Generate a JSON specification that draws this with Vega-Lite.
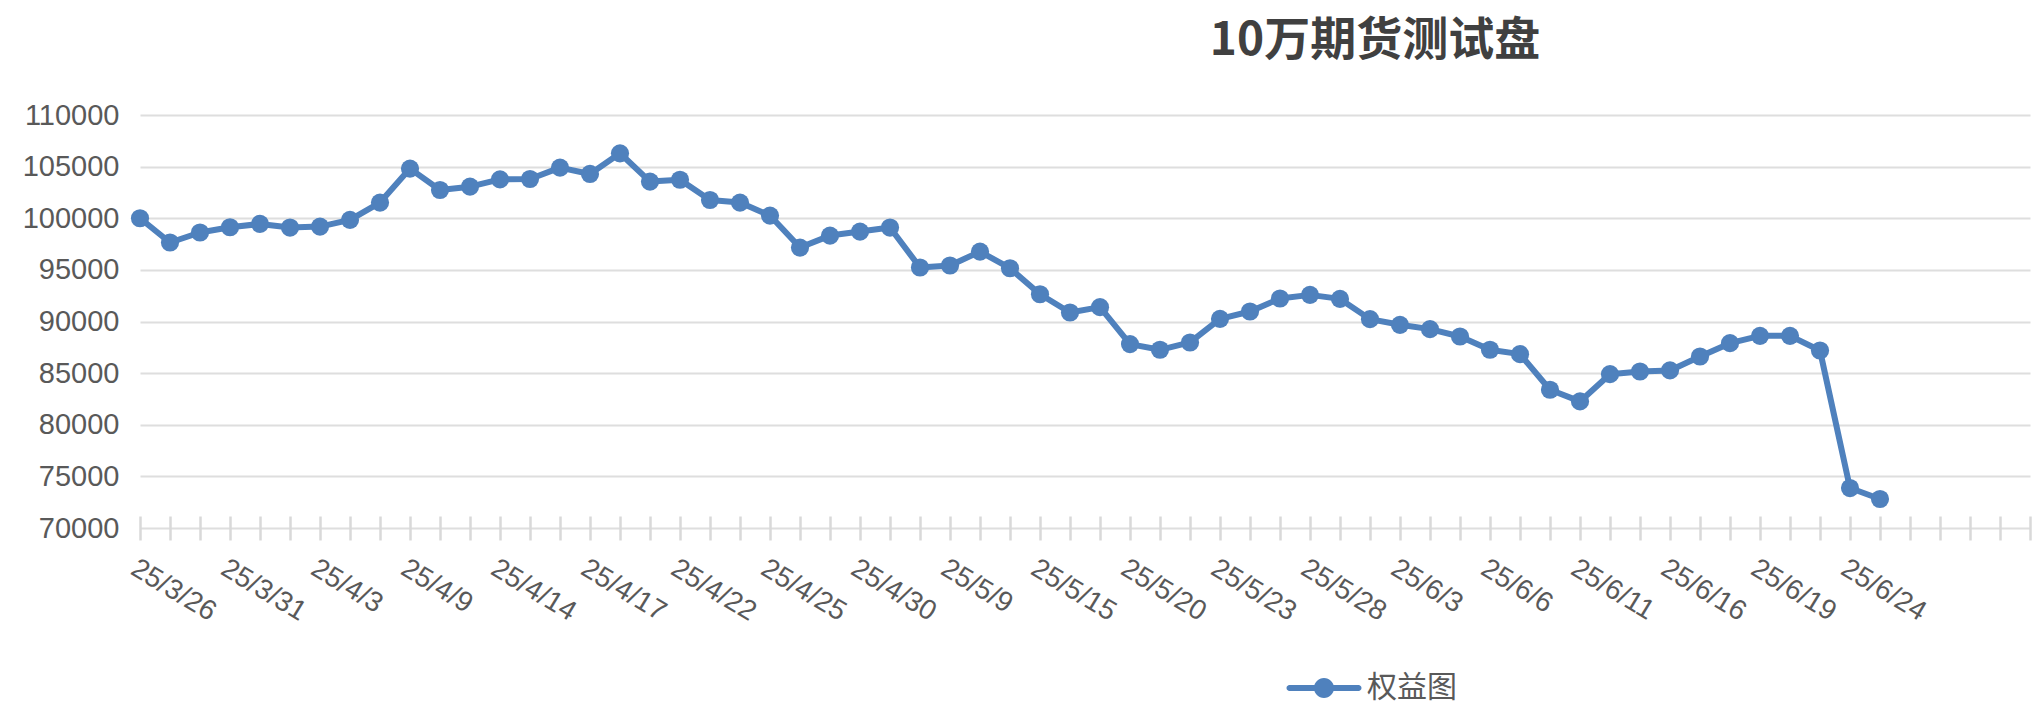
{
  "$schema": "https://vega.github.io/schema/vega-lite/v6.json",
  "width": 1890,
  "height": 413,
  "autosize": {"type": "none"},
  "padding": {"left": 140, "top": 115, "right": 6, "bottom": 188},
  "background": "white",
  "config": {"view": {"stroke": "transparent"}},
  "title": {
    "text": "10万期货测试盘",
    "font": "Noto Sans CJK SC",
    "fontSize": 46,
    "fontWeight": "bold",
    "color": "#404040",
    "anchor": "middle",
    "baseline": "alphabetic",
    "dx": 290,
    "offset": 0
  },
  "data": {
    "values": [
      {"d": "25/3/26", "v": 100000},
      {"d": "25/3/27", "v": 97650},
      {"d": "25/3/28", "v": 98620},
      {"d": "25/3/31", "v": 99130},
      {"d": "25/4/1", "v": 99450},
      {"d": "25/4/2", "v": 99100},
      {"d": "25/4/3", "v": 99190},
      {"d": "25/4/7", "v": 99840},
      {"d": "25/4/8", "v": 101520},
      {"d": "25/4/9", "v": 104810},
      {"d": "25/4/10", "v": 102740},
      {"d": "25/4/11", "v": 103060},
      {"d": "25/4/14", "v": 103770},
      {"d": "25/4/15", "v": 103800},
      {"d": "25/4/16", "v": 104900},
      {"d": "25/4/17", "v": 104290},
      {"d": "25/4/18", "v": 106290},
      {"d": "25/4/21", "v": 103550},
      {"d": "25/4/22", "v": 103730},
      {"d": "25/4/23", "v": 101770},
      {"d": "25/4/24", "v": 101520},
      {"d": "25/4/25", "v": 100260},
      {"d": "25/4/28", "v": 97160},
      {"d": "25/4/29", "v": 98320},
      {"d": "25/4/30", "v": 98710},
      {"d": "25/5/6", "v": 99100},
      {"d": "25/5/7", "v": 95230},
      {"d": "25/5/9", "v": 95420},
      {"d": "25/5/12", "v": 96770},
      {"d": "25/5/13", "v": 95160},
      {"d": "25/5/15", "v": 92640},
      {"d": "25/5/16", "v": 90870},
      {"d": "25/5/19", "v": 91390},
      {"d": "25/5/20", "v": 87810},
      {"d": "25/5/21", "v": 87260},
      {"d": "25/5/22", "v": 87970},
      {"d": "25/5/23", "v": 90260},
      {"d": "25/5/26", "v": 90970},
      {"d": "25/5/27", "v": 92230},
      {"d": "25/5/28", "v": 92580},
      {"d": "25/5/29", "v": 92190},
      {"d": "25/5/30", "v": 90230},
      {"d": "25/6/3", "v": 89680},
      {"d": "25/6/4", "v": 89260},
      {"d": "25/6/5", "v": 88550},
      {"d": "25/6/6", "v": 87260},
      {"d": "25/6/9", "v": 86840},
      {"d": "25/6/10", "v": 83390},
      {"d": "25/6/11", "v": 82260},
      {"d": "25/6/12", "v": 84900},
      {"d": "25/6/13", "v": 85160},
      {"d": "25/6/16", "v": 85260},
      {"d": "25/6/17", "v": 86610},
      {"d": "25/6/18", "v": 87900},
      {"d": "25/6/19", "v": 88610},
      {"d": "25/6/20", "v": 88610},
      {"d": "25/6/23", "v": 87190},
      {"d": "25/6/24", "v": 73870},
      {"d": "25/6/25", "v": 72810}
    ]
  },
  "encoding": {
    "x": {
      "field": "d",
      "type": "ordinal",
      "scale": {
        "type": "point",
        "padding": 0,
        "domain": [
          "25/3/26", "25/3/27", "25/3/28", "25/3/31", "25/4/1", "25/4/2", "25/4/3", "25/4/7",
          "25/4/8", "25/4/9", "25/4/10", "25/4/11", "25/4/14", "25/4/15", "25/4/16", "25/4/17",
          "25/4/18", "25/4/21", "25/4/22", "25/4/23", "25/4/24", "25/4/25", "25/4/28", "25/4/29",
          "25/4/30", "25/5/6", "25/5/7", "25/5/9", "25/5/12", "25/5/13", "25/5/15", "25/5/16",
          "25/5/19", "25/5/20", "25/5/21", "25/5/22", "25/5/23", "25/5/26", "25/5/27", "25/5/28",
          "25/5/29", "25/5/30", "25/6/3", "25/6/4", "25/6/5", "25/6/6", "25/6/9", "25/6/10",
          "25/6/11", "25/6/12", "25/6/13", "25/6/16", "25/6/17", "25/6/18", "25/6/19", "25/6/20",
          "25/6/23", "25/6/24", "25/6/25", "25/6/26", "25/6/27", "25/6/30", "25/7/1", "25/7/2"
        ]
      },
      "axis": {
        "title": null,
        "offset": -12,
        "domain": false,
        "grid": false,
        "tickSize": 24,
        "tickColor": "#D9D9D9",
        "tickWidth": 2.5,
        "labelAngle": 31,
        "labelAlign": "left",
        "labelBaseline": "top",
        "labelFont": "Liberation Sans",
        "labelFontSize": 28,
        "labelColor": "#595959",
        "labelPadding": 14,
        "labelOverlap": false,
        "labelExpr": "indexof(['25/3/26','25/3/31','25/4/3','25/4/9','25/4/14','25/4/17','25/4/22','25/4/25','25/4/30','25/5/9','25/5/15','25/5/20','25/5/23','25/5/28','25/6/3','25/6/6','25/6/11','25/6/16','25/6/19','25/6/24'], datum.value) >= 0 ? datum.value : ''"
      }
    },
    "y": {
      "field": "v",
      "type": "quantitative",
      "scale": {"domain": [70000, 110000], "nice": false, "zero": false},
      "axis": {
        "title": null,
        "values": [70000, 75000, 80000, 85000, 90000, 95000, 100000, 105000, 110000],
        "format": "d",
        "domain": false,
        "ticks": false,
        "grid": true,
        "gridColor": "#DEDEDE",
        "gridWidth": 2,
        "labelFont": "Liberation Sans",
        "labelFontSize": 29,
        "labelColor": "#595959",
        "labelPadding": 21
      }
    }
  },
  "layer": [
    {
      "mark": {"type": "line", "color": "#4F81BD", "strokeWidth": 6, "strokeJoin": "round", "strokeCap": "round"}
    },
    {
      "mark": {"type": "point", "shape": "circle", "filled": true, "opacity": 1, "size": 330},
      "encoding": {
        "color": {
          "datum": "权益图",
          "type": "nominal",
          "scale": {"range": ["#4F81BD"]},
          "legend": {
            "title": null,
            "orient": "none",
            "legendX": 1159,
            "legendY": 548,
            "padding": 0,
            "symbolType": "M-1.38,-0.12 L1.38,-0.12 A0.12,0.12 0 0 1 1.38,0.12 L-1.38,0.12 A0.12,0.12 0 0 1 -1.38,-0.12 Z M0.4,0 A0.4,0.4 0 1 1 -0.4,0 A0.4,0.4 0 1 1 0.4,0 Z",
            "symbolSize": 2500,
            "symbolStrokeWidth": 0,
            "symbolOpacity": 1,
            "labelFont": "Noto Sans CJK SC",
            "labelFontSize": 30,
            "labelColor": "#595959",
            "labelOffset": 18
          }
        }
      }
    }
  ]
}
